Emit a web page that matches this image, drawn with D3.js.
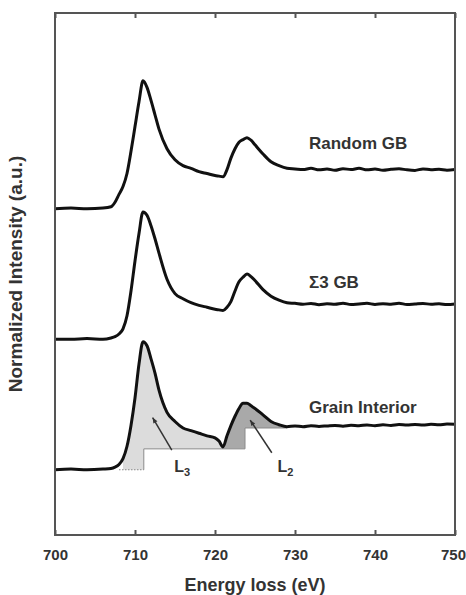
<!DOCTYPE html>
<html>
<head>
<meta charset="utf-8">
<script src="https://cdn.jsdelivr.net/npm/d3@7"></script>
<style>
  body { margin: 0; background: #fff; }
  text { font-family: "Liberation Sans", Arial, sans-serif; font-weight: bold; }
</style>
</head>
<body>
<div id="graph"></div>
<script>
// energy grid (eV)
const energy = [700, 702, 704, 706, 707, 707.5, 708, 708.5, 709, 709.5, 710, 710.5, 711, 711.5, 712, 712.5, 713,
  714, 715, 716, 717, 718, 719, 720, 720.5, 721, 721.5, 722, 722.5, 723, 723.5, 724, 724.5, 725,
  726, 727, 728, 729, 730, 731, 732, 733, 734, 735, 736, 737, 738, 739, 740, 741, 742, 743, 744, 745, 746, 747, 748, 749, 750];

// normalized intensity of each spectrum (baseline = 0)
const randomGB = [0, 0.005, 0, 0.005, 0.015, 0.05, 0.11, 0.17, 0.27, 0.44, 0.63, 0.82, 0.98, 0.93, 0.83, 0.72, 0.61,
  0.46, 0.375, 0.33, 0.31, 0.285, 0.27, 0.255, 0.25, 0.245, 0.3, 0.39, 0.46, 0.51, 0.53, 0.545, 0.525, 0.49,
  0.42, 0.36, 0.33, 0.31, 0.305, 0.3, 0.31, 0.298, 0.305, 0.295, 0.307, 0.3, 0.31, 0.298, 0.305, 0.295, 0.302, 0.306, 0.298, 0.294, 0.305, 0.299, 0.302, 0.295, 0.3];
const sigma3GB = [0, 0, 0.005, 0, 0.01, 0.02, 0.04, 0.08, 0.18, 0.37, 0.6, 0.81, 0.975, 0.95, 0.87, 0.77, 0.66,
  0.46, 0.35, 0.31, 0.28, 0.26, 0.245, 0.23, 0.225, 0.22, 0.245, 0.29, 0.37, 0.44, 0.475, 0.5, 0.48, 0.45,
  0.38, 0.33, 0.3, 0.28, 0.275, 0.268, 0.274, 0.265, 0.272, 0.268, 0.276, 0.266, 0.271, 0.275, 0.267, 0.272, 0.269, 0.276, 0.266, 0.27, 0.274, 0.268, 0.272, 0.266, 0.27];
const grainInterior = [0, 0.005, 0, 0.005, 0.01, 0.02, 0.04, 0.085, 0.18, 0.34, 0.55, 0.81, 0.98, 0.95, 0.85, 0.74, 0.61,
  0.44, 0.37, 0.32, 0.3, 0.28, 0.26, 0.245, 0.22, 0.175, 0.26, 0.34, 0.41, 0.47, 0.51, 0.51, 0.49, 0.47,
  0.42, 0.37, 0.345, 0.33, 0.335, 0.33, 0.338, 0.332, 0.336, 0.34, 0.334, 0.341, 0.338, 0.343, 0.337, 0.344, 0.34, 0.346, 0.342, 0.347, 0.343, 0.348, 0.345, 0.35, 0.348];

const seriesNames = ["Random GB", "\u03A33 GB", "Grain Interior"];
const offsets = [2.5, 1.5, 0.5];
const labelPos = [[731.75, 3.0], [731.75, 1.94], [731.75, 0.98]];

// two-step background under the Grain Interior spectrum
const stepEdges = [711.1, 723.75];
const stepLevels = [0, 0.16, 0.32];
const l3Range = [708.5, 721];
const l2Range = [721, 729];

// L3 / L2 annotations
const edgeNotes = [
  { name: "L", sub: "3", at: [714.9, -0.02], from: [714.6, 0.15], to: [712.2, 0.4] },
  { name: "L", sub: "2", at: [727.8, -0.02], from: [727.1, 0.13], to: [724.4, 0.38] }
];

const xTicks = [700, 710, 720, 730, 740, 750];

var margin = { top: 13, right: 11, bottom: 60, left: 55 },
  width = 466 - margin.left - margin.right,
  height = 595 - margin.top - margin.bottom;

var svg = d3.select("#graph")
  .append("svg")
  .attr("width", 466)
  .attr("height", 595)
  .append("g")
  .attr("transform", "translate(" + margin.left + "," + margin.top + ")");

var x = d3.scaleLinear().domain([700, 750]).range([0, width]);
var y = d3.scaleLinear().domain([0, 4]).range([height, 0]);

var line = d3.line()
  .x(d => x(d[0]))
  .y(d => y(d[1]));
var smooth = d3.line()
  .x(d => x(d[0]))
  .y(d => y(d[1]))
  .curve(d3.curveMonotoneX);

// shaded L3 and L2 areas
var gi = offsets[2];
function stepAt(e) {
  if (e < stepEdges[0]) return stepLevels[0];
  if (e < stepEdges[1]) return stepLevels[1];
  return stepLevels[2];
}
function regionPoints(range) {
  var top = energy.map((e, i) => [e, grainInterior[i] + gi]).filter(d => d[0] >= range[0] && d[0] <= range[1]);
  var bottom = [[range[1], stepAt(range[1] - 0.01) + gi]];
  stepEdges.slice().reverse().forEach((s, k) => {
    var j = stepEdges.length - 1 - k;
    if (s > range[0] && s < range[1]) {
      bottom.push([s, stepLevels[j + 1] + gi]);
      bottom.push([s, stepLevels[j] + gi]);
    }
  });
  bottom.push([range[0], stepAt(range[0]) + gi]);
  return top.concat(bottom);
}

svg.append("path")
  .attr("d", line(regionPoints(l3Range)) + "Z")
  .attr("fill", "#dcdcdc");
svg.append("path")
  .attr("d", line(regionPoints(l2Range)) + "Z")
  .attr("fill", "#a9a9a9");

// step outline
svg.append("path")
  .attr("d", line([[708, stepLevels[0] + gi], [stepEdges[0], stepLevels[0] + gi]]))
  .attr("fill", "none").attr("stroke", "#888").attr("stroke-width", 1).attr("stroke-dasharray", "1.5,1.5");
svg.append("path")
  .attr("d", line([[stepEdges[0], stepLevels[0] + gi], [stepEdges[0], stepLevels[1] + gi],
    [stepEdges[1], stepLevels[1] + gi], [stepEdges[1], stepLevels[2] + gi], [l2Range[1], stepLevels[2] + gi]]))
  .attr("fill", "none").attr("stroke", "#8a8a8a").attr("stroke-width", 1);

// spectra
[randomGB, sigma3GB, grainInterior].forEach((s, k) => {
  svg.append("path")
    .attr("d", smooth(energy.map((e, i) => [e, s[i] + offsets[k]])))
    .attr("fill", "none")
    .attr("stroke", "#111")
    .attr("stroke-width", 3)
    .attr("stroke-linejoin", "round");
});

// series labels
svg.selectAll(".series-label")
  .data(seriesNames)
  .enter()
  .append("text")
  .attr("class", "series-label")
  .attr("x", (d, i) => x(labelPos[i][0]))
  .attr("y", (d, i) => y(labelPos[i][1]))
  .attr("dy", "0.35em")
  .attr("font-size", 17)
  .attr("fill", "#333")
  .text(d => d);

// L3 / L2 arrows
edgeNotes.forEach(n => {
  var x1 = x(n.from[0]), y1 = y(n.from[1] + gi), x2 = x(n.to[0]), y2 = y(n.to[1] + gi);
  svg.append("line")
    .attr("x1", x1).attr("y1", y1).attr("x2", x2).attr("y2", y2)
    .attr("stroke", "#333").attr("stroke-width", 1.5);
  var a = Math.atan2(y2 - y1, x2 - x1);
  var h = 6;
  svg.append("path")
    .attr("d", "M" + x2 + "," + y2 +
      "L" + (x2 - h * Math.cos(a - 0.4)) + "," + (y2 - h * Math.sin(a - 0.4)) +
      "L" + (x2 - h * Math.cos(a + 0.4)) + "," + (y2 - h * Math.sin(a + 0.4)) + "Z")
    .attr("fill", "#333");
  var t = svg.append("text")
    .attr("x", x(n.at[0]))
    .attr("y", y(n.at[1] + gi))
    .attr("font-size", 16)
    .attr("fill", "#333");
  t.append("tspan").text(n.name);
  t.append("tspan").attr("font-size", 11).attr("dy", 4).text(n.sub);
});

// frame
svg.append("rect")
  .attr("width", width).attr("height", height)
  .attr("fill", "none").attr("stroke", "#555").attr("stroke-width", 2);

// ticks, bottom and top, pointing in
svg.append("g")
  .attr("transform", "translate(0," + height + ")")
  .call(d3.axisBottom(x).tickValues(xTicks).tickSizeInner(-5).tickSizeOuter(0).tickPadding(14).tickFormat(d3.format("d")))
  .call(g => g.select(".domain").remove())
  .call(g => g.selectAll(".tick line").attr("stroke", "#555").attr("stroke-width", 2))
  .call(g => g.selectAll(".tick text").attr("font-size", 15).attr("fill", "#333")
    .attr("font-family", "Liberation Sans, Arial, sans-serif").attr("font-weight", "bold")
    .attr("dx", d => d === 750 ? -2 : 0));
svg.append("g")
  .call(d3.axisTop(x).tickValues(xTicks).tickSizeInner(-5).tickSizeOuter(0).tickFormat(""))
  .call(g => g.select(".domain").remove())
  .call(g => g.selectAll(".tick line").attr("stroke", "#555").attr("stroke-width", 2));

// axis titles
svg.append("text")
  .attr("x", width / 2)
  .attr("y", height + 56)
  .attr("text-anchor", "middle")
  .attr("font-size", 18)
  .attr("fill", "#333")
  .text("Energy loss (eV)");
svg.append("text")
  .attr("transform", "translate(" + (-33) + "," + (height / 2) + ") rotate(-90)")
  .attr("text-anchor", "middle")
  .attr("font-size", 19)
  .attr("fill", "#333")
  .text("Normalized Intensity (a.u.)");
</script>
</body>
</html>
